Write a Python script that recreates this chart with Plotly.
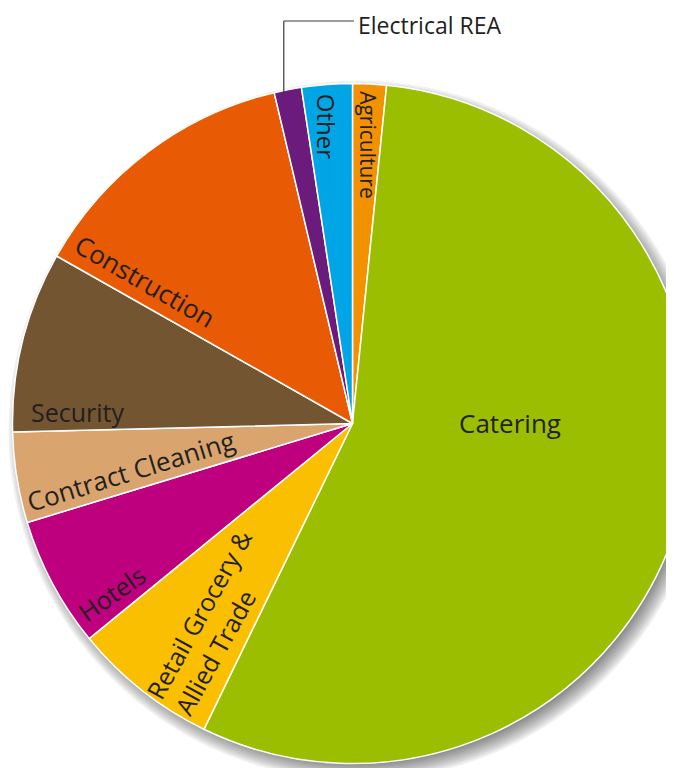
import math
import plotly.graph_objects as go

# ---------------- data ----------------
sectors = ["Agriculture", "Catering", "Retail Grocery &<br>Allied Trade", "Hotels",
           "Contract Cleaning", "Security", "Construction", "Electrical REA", "Other"]
shares = [1.6, 55.6, 6.9, 6.2, 4.3, 8.6, 13.1, 1.3, 2.4]

# ---------------- style ----------------
colors = ["#F39200", "#9BBE00", "#FABF00", "#BE007E", "#D9A46D",
          "#735531", "#E85A04", "#6A1B7C", "#00A5E6"]
label_r = [0.82, 0.462, 0.712, 0.865, 0.668, 0.809, 0.74, 0.99, 0.878]
label_da = [0.3, -16, -3.4, -7, -2.8, -11.6, -18.7, -0.8, -0.7]
label_rot = [90, 0, -61, -35, -17, 0, 30, 0, 90]
label_size = [21, 26, 25, 25, 26, 25, 26, 23, 24]
label_outside = [False, False, False, False, False, False, False, True, False]
FONT = "Open Sans"
TXT = "#231F20"

OFF = 8            # page margin around the figure
W, H = 712, 790
CX, CY, R = 352.5, 423.5, 340


def px_to_paper(x, y):
    return (x - OFF) / W, 1 - (y - OFF) / H


def domain_for(cx, cy, r):
    x0, y1 = px_to_paper(cx - r, cy - r)
    x1, y0 = px_to_paper(cx + r, cy + r)
    return dict(x=[max(0, x0), min(1, x1)], y=[max(0, y0), min(1, y1)])


fig = go.Figure()

# soft drop shadow (stacked translucent discs, offset down-right)
for k in range(10):
    fig.add_trace(go.Pie(values=[1], labels=["shadow"], sort=False,
                         marker=dict(colors=["rgba(0,0,0,0.06)"], line=dict(width=0)),
                         textinfo="none", hoverinfo="skip", showlegend=False,
                         domain=domain_for(CX + 6, CY + 7, R + 10 - 2 * k)))

fig.add_trace(go.Pie(
    labels=[s.replace("<br>", " ") for s in sectors], values=shares, sort=False,
    direction="clockwise", rotation=0,
    marker=dict(colors=colors, line=dict(color="white", width=1.5)),
    textinfo="none", hoverinfo="label+percent", showlegend=False,
    domain=domain_for(CX, CY, R)))

# labels positioned from the slice geometry
total = sum(shares)
annotations = []
shapes = []
cum = 0.0
for i, (name, v) in enumerate(zip(sectors, shares)):
    mid = 360 * (cum + v / 2) / total
    cum += v
    a = math.radians(mid + label_da[i])
    px = CX + label_r[i] * R * math.sin(a)
    py = CY - label_r[i] * R * math.cos(a)
    if label_outside[i]:
        ly = 21
        tx = 356
        x0, y0 = px_to_paper(px, py)
        x1, y1 = px_to_paper(px, ly)
        x2, y2 = px_to_paper(tx - 2, ly)
        shapes.append(dict(type="line", xref="paper", yref="paper", x0=x0, y0=y0, x1=x1, y1=y1,
                           line=dict(color="#3a3a3a", width=1.2)))
        shapes.append(dict(type="line", xref="paper", yref="paper", x0=x1, y0=y1, x1=x2, y1=y2,
                           line=dict(color="#3a3a3a", width=1.2)))
        ax, ay = px_to_paper(tx, ly + 4)
        annotations.append(dict(x=ax, y=ay, xref="paper", yref="paper", text=name,
                                showarrow=False, xanchor="left", yanchor="middle",
                                font=dict(family=FONT, size=label_size[i], color=TXT)))
    else:
        ax, ay = px_to_paper(px, py)
        annotations.append(dict(x=ax, y=ay, xref="paper", yref="paper", text=name,
                                showarrow=False, xanchor="center", yanchor="middle",
                                textangle=label_rot[i], align="left",
                                font=dict(family=FONT, size=label_size[i], color=TXT)))

fig.update_layout(width=W, height=H, margin=dict(l=0, r=0, t=0, b=0),
                  paper_bgcolor="white", plot_bgcolor="white",
                  annotations=annotations, shapes=shapes, showlegend=False)

fig.write_html("out.html")
